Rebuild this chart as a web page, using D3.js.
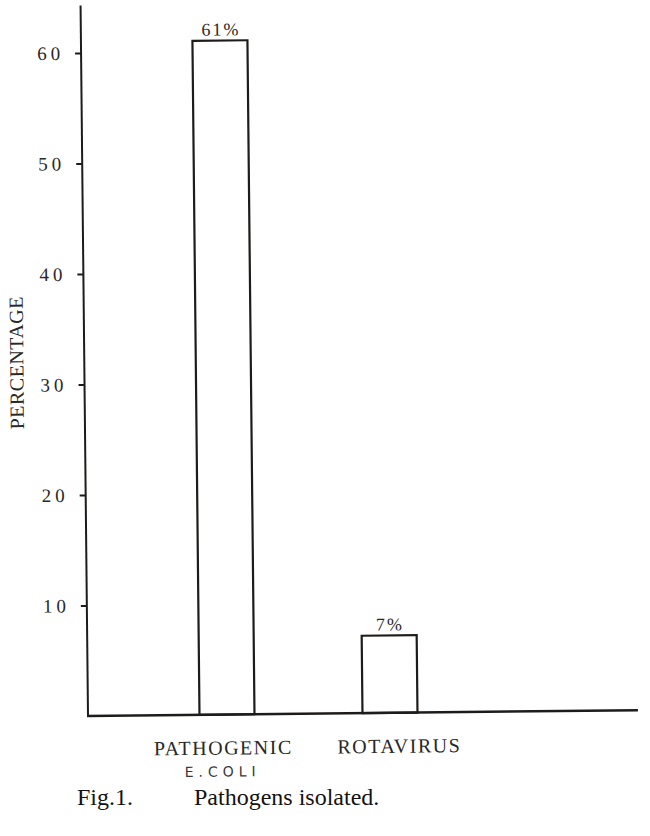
<!DOCTYPE html>
<html>
<head>
<meta charset="utf-8">
<script src="https://cdn.jsdelivr.net/npm/d3@7"></script>
<style>
  html, body { margin: 0; padding: 0; background: #fff; }
  svg { display: block; }
</style>
</head>
<body>
<svg id="chart" width="650" height="836"></svg>
<script>
// data
const categories = ["PATHOGENIC", "ROTAVIRUS"];
const subLabels = ["E.COLI", ""];
const percentages = [61, 7];
const valueLabels = ["61%", "7%"];
const yTicks = [10, 20, 30, 40, 50, 60];

const ink = "#1e1c1a";
const serif = "'Liberation Serif', 'Times New Roman', serif";
const svg = d3.select("#chart");

// the scan is tilted a little, so the whole figure gets a small turn
const g = svg.append("g").attr("transform", "rotate(-0.6, 88, 716)");

const y = d3.scaleLinear().domain([0, 60]).range([716, 53]);
const x = d3.scalePoint().domain(categories).range([227, 390]);
const barW = 55;
const axisX = 88;

// y axis
const yAxis = g.append("g")
  .attr("transform", `translate(${axisX},0)`)
  .call(d3.axisLeft(y).tickValues(yTicks).tickSize(6).tickPadding(11));
yAxis.attr("font-family", serif);
yAxis.select(".domain").remove();
yAxis.selectAll(".tick line").attr("stroke", ink).attr("stroke-width", 2);
yAxis.selectAll(".tick text")
  .attr("fill", "#2a2826")
  .style("font-size", "19px")
  .style("letter-spacing", "4px");

g.append("line")
  .attr("x1", axisX).attr("x2", axisX)
  .attr("y1", y(0)).attr("y2", y(64.3))
  .attr("stroke", ink).attr("stroke-width", 2);

// baseline
g.append("line")
  .attr("x1", axisX - 1).attr("x2", 638)
  .attr("y1", y(0)).attr("y2", y(0))
  .attr("stroke", ink).attr("stroke-width", 2.5);

// bars
g.selectAll("rect.bar")
  .data(percentages)
  .join("rect")
  .attr("class", "bar")
  .attr("x", (d, i) => x(categories[i]) - barW / 2)
  .attr("y", d => y(d))
  .attr("width", barW)
  .attr("height", d => y(0) - y(d))
  .attr("fill", "none")
  .attr("stroke", ink)
  .attr("stroke-width", 2.2);

// value labels
g.selectAll("text.val")
  .data(percentages)
  .join("text")
  .attr("class", "val")
  .attr("x", (d, i) => x(categories[i]) + 1)
  .attr("y", d => y(d) - 5)
  .attr("text-anchor", "middle")
  .attr("fill", "#2a2826")
  .style("font-family", serif)
  .style("font-size", "18px")
  .style("letter-spacing", "2px")
  .text((d, i) => valueLabels[i]);

// category labels (typed slightly off-centre in the original)
const labelShift = [-4, 9];
g.selectAll("text.cat")
  .data(categories)
  .join("text")
  .attr("class", "cat")
  .attr("x", (d, i) => x(d) + labelShift[i])
  .attr("y", 756)
  .attr("text-anchor", "middle")
  .attr("fill", "#2a2826")
  .style("font-family", serif)
  .style("font-size", "20px")
  .style("letter-spacing", "1.5px")
  .text(d => d);

// handwritten note under the first label
g.selectAll("text.sub")
  .data(subLabels.filter(s => s))
  .join("text")
  .attr("class", "sub")
  .attr("x", (d, i) => x(categories[i]) - 5)
  .attr("y", 778)
  .attr("text-anchor", "middle")
  .attr("fill", "#3a3836")
  .style("font-family", "'DejaVu Sans', sans-serif")
  .style("font-size", "14px")
  .style("letter-spacing", "5px")
  .text(d => d);

// y axis title
g.append("text")
  .attr("transform", "translate(27,362) rotate(-90)")
  .attr("text-anchor", "middle")
  .attr("fill", "#2a2826")
  .style("font-family", serif)
  .style("font-size", "20px")
  .style("letter-spacing", "0.5px")
  .text("PERCENTAGE");

// caption
const cap = svg.append("text")
  .attr("y", 805)
  .attr("fill", "#141210")
  .style("font-family", serif)
  .style("font-size", "24px");
cap.append("tspan").attr("x", 77).text("Fig.1.");
cap.append("tspan").attr("x", 194).text("Pathogens isolated.");
</script>
</body>
</html>
